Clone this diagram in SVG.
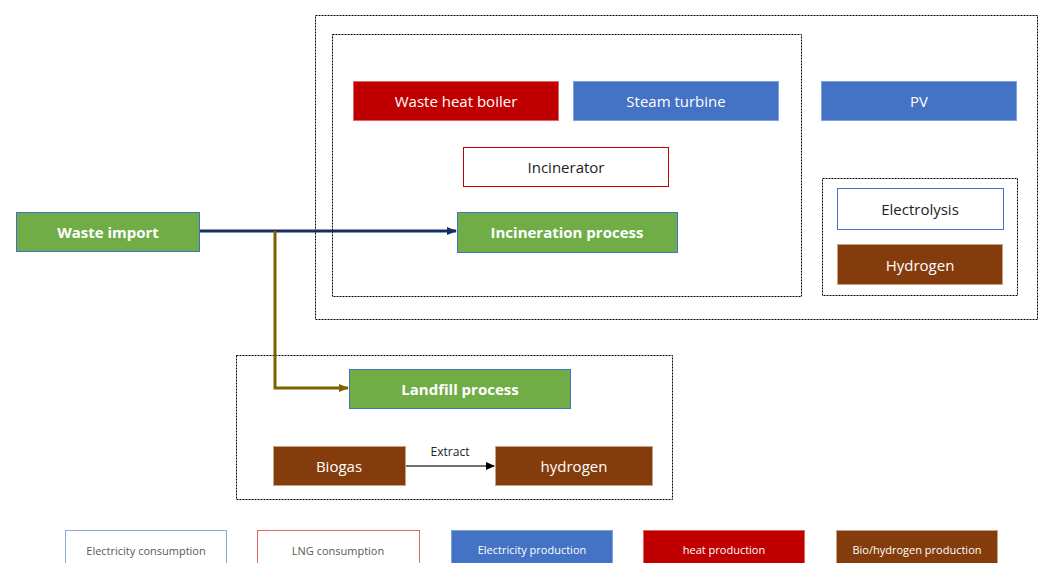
<svg xmlns="http://www.w3.org/2000/svg" width="1041" height="563" viewBox="0 0 1041 563">
<defs>
<marker id="arrNavy" markerWidth="10" markerHeight="8" refX="9" refY="4" orient="auto" markerUnits="userSpaceOnUse"><path d="M0,0 L10,4 L0,8 Z" fill="#132F63"/></marker>
<marker id="arrOlive" markerWidth="10" markerHeight="8" refX="9" refY="4" orient="auto" markerUnits="userSpaceOnUse"><path d="M0,0 L10,4 L0,8 Z" fill="#7F6000"/></marker>
<marker id="arrBlack" markerWidth="9" markerHeight="8" refX="8" refY="4" orient="auto" markerUnits="userSpaceOnUse"><path d="M0,0 L9,4 L0,8 Z" fill="#000"/></marker>
</defs>
<style>
text{font-family:"Open Sans","Noto Sans","Liberation Sans",sans-serif;text-anchor:middle;dominant-baseline:central}
.grp{fill:none;stroke:#000;stroke-width:1;stroke-dasharray:2,1}
.green{fill:#70AD47;stroke:#4472C4;stroke-width:1}
.red{fill:#C00000;stroke:#E06666;stroke-width:1}
.blue{fill:#4472C4;stroke:#7FA0DA;stroke-width:1}
.brown{fill:#843C0C;stroke:#C9A184;stroke-width:1}
.wblue{fill:#fff;stroke:#4472C4;stroke-width:1}
.wred{fill:#fff;stroke:#C00000;stroke-width:1}
.tw{fill:#fff;font-size:15px}
.tb{fill:#fff;font-size:15px;font-weight:bold}
.tk{fill:#222;font-size:15px}
.lg{font-size:11px}
</style>
<g id="groups">
<rect class="grp" x="315.5" y="15.5" width="722" height="304"/>
<rect class="grp" x="332.5" y="34.5" width="469" height="262"/>
<rect class="grp" x="822.5" y="178.5" width="195" height="117"/>
<rect class="grp" x="236.5" y="355.5" width="436" height="144"/>
</g>
<g id="connectors">
<line x1="199" y1="231" x2="456" y2="231" stroke="#132F63" stroke-width="3" marker-end="url(#arrNavy)"/>
<polyline points="275,231 275,388 348,388" fill="none" stroke="#7F6000" stroke-width="3" marker-end="url(#arrOlive)"/>
<line x1="405" y1="466" x2="494" y2="466" stroke="#404040" stroke-width="1.5" marker-end="url(#arrBlack)"/>
<text x="450" y="451" style="font-size:12px;fill:#222">Extract</text>
</g>
<g id="waste-import"><rect class="green" x="16.5" y="212.5" width="183" height="39"/><text class="tb" x="108" y="232">Waste import</text></g>
<g id="waste-heat-boiler"><rect class="red" x="353.5" y="81.5" width="205" height="39"/><text class="tw" x="456" y="101">Waste heat boiler</text></g>
<g id="steam-turbine"><rect class="blue" x="573.5" y="81.5" width="205" height="39"/><text class="tw" x="676" y="101">Steam turbine</text></g>
<g id="pv"><rect class="blue" x="821.5" y="81.5" width="195" height="39"/><text class="tw" x="919" y="101">PV</text></g>
<g id="incinerator"><rect class="wred" x="463.5" y="147.5" width="205" height="39"/><text class="tk" x="566" y="167">Incinerator</text></g>
<g id="incineration-process"><rect class="green" x="457.5" y="212.5" width="220" height="40"/><text class="tb" x="567" y="232">Incineration process</text></g>
<g id="electrolysis"><rect class="wblue" x="837.5" y="188.5" width="166" height="41"/><text class="tk" x="920" y="209">Electrolysis</text></g>
<g id="hydrogen-pv"><rect class="brown" x="837.5" y="244.5" width="165" height="40"/><text class="tw" x="920" y="265">Hydrogen</text></g>
<g id="landfill-process"><rect class="green" x="349.5" y="369.5" width="221" height="39"/><text class="tb" x="460" y="389">Landfill process</text></g>
<g id="biogas"><rect class="brown" x="273.5" y="446.5" width="132" height="39"/><text class="tw" x="339" y="466">Biogas</text></g>
<g id="hydrogen-landfill"><rect class="brown" x="495.5" y="446.5" width="157" height="39"/><text class="tw" x="574" y="466">hydrogen</text></g>
<g id="legend">
<rect class="wblue" x="65.5" y="530.5" width="161" height="40" style="stroke:#8EA9DB"/><text class="lg" x="146" y="550" style="fill:#595959">Electricity consumption</text>
<rect class="wred" x="257.5" y="530.5" width="162" height="40" style="stroke:#E06666"/><text class="lg" x="338" y="550" style="fill:#595959">LNG consumption</text>
<rect class="blue" x="451.5" y="530.5" width="161" height="40"/><text class="lg" x="532" y="549" style="fill:#fff">Electricity production</text>
<rect class="red" x="643.5" y="530.5" width="161" height="40"/><text class="lg" x="724" y="549" style="fill:#fff">heat production</text>
<rect class="brown" x="836.5" y="530.5" width="161" height="40"/><text class="lg" x="917" y="549" style="fill:#fff">Bio/hydrogen production</text>
</g>
</svg>
